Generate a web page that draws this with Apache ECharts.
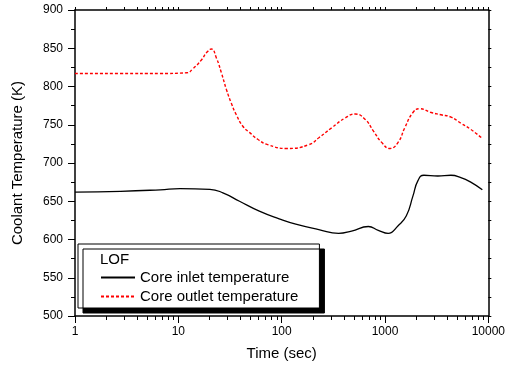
<!DOCTYPE html>
<html><head><meta charset="utf-8">
<script src="https://cdn.jsdelivr.net/npm/echarts@6/dist/echarts.min.js"></script>
<style>html,body{margin:0;padding:0;background:#fff}#c{width:508px;height:367px}</style>
</head><body><div id="c"></div>
<script>
// Core inlet temperature (black, solid)
const inletTime = [1, 2.76, 6.68, 10.4, 20.2, 27.0, 39.1, 60.8, 94.6, 137, 229, 356, 475, 691, 861, 1074, 1340, 1610, 1866, 2084, 2378, 3243, 4350, 5423, 6761, 8753];
const inletTemp = [662, 663, 665, 666.5, 665.6, 661, 650, 637, 627, 620, 613, 608, 611, 617, 612, 608, 618, 631, 657, 677, 684, 683, 684, 681, 675, 665];
// Core outlet temperature (red, dashed)
const outletTime = [1, 2.76, 6.68, 12.1, 13.8, 16.8, 18.7, 20.9, 23.4, 26.1, 29.2, 32.6, 36.4, 42.1, 48.8, 58.6, 73.1, 113, 184, 229, 305, 413, 515, 643, 771, 927, 1115, 1340, 1553, 1866, 2163, 2797, 3487, 4350, 5423, 6761, 8753];
const outletTemp = [817, 817, 817, 818, 823, 835, 844, 849, 837, 818, 796, 778, 763, 748, 740, 731, 724, 719, 724, 733, 746, 759, 764, 757, 742, 727, 719, 727, 746, 766, 771, 766, 763, 760, 752, 744, 732];
// tick values
const xMajorTicks = [1, 10, 100, 1000, 10000];
const xMinorTicks = [2,3,4,5,6,7,8,9, 20,30,40,50,60,70,80,90, 200,300,400,500,600,700,800,900, 2000,3000,4000,5000,6000,7000,8000,9000];
const yMin = 500, yMax = 900, yStep = 50;
const seriesNames = ['Core inlet temperature', 'Core outlet temperature'];
const legendTitle = 'LOF';
const xName = 'Time (sec)';
const yName = 'Coolant Temperature (K)';

const FONT = 'Liberation Sans, Arial, Helvetica, sans-serif';
const chart = echarts.init(document.getElementById('c'), null, {renderer: 'canvas'});
const black = '#000';
const baseX = {
  type: 'log', logBase: 10, min: 1, max: 10000,
  splitLine: {show: false}, minorSplitLine: {show: false}
};
chart.setOption({
  animation: false,
  backgroundColor: '#fff',
  textStyle: {fontFamily: FONT, color: black},
  grid: {left: 75, right: 17, top: 10, bottom: 51, containLabel: false},
  title: {
    text: legendTitle, left: 100, top: 252, padding: 0,
    textStyle: {fontFamily: FONT, fontSize: 15, fontWeight: 'normal', color: black}
  },
  legend: {
    orient: 'vertical', left: 78, top: 244,
    padding: [26, 21, 4, 22],
    itemGap: 4, itemWidth: 34, itemHeight: 15,
    backgroundColor: '#fff', borderColor: black, borderWidth: 1,
    shadowColor: black, shadowOffsetX: 5, shadowOffsetY: 5, shadowBlur: 0,
    itemStyle: {opacity: 0, borderWidth: 0},
    textStyle: {fontFamily: FONT, fontSize: 15, color: black, padding: [0, 0, 0, 0]},
    data: seriesNames
  },
  xAxis: [
    Object.assign({}, baseX, {
      position: 'bottom',
      axisLine: {show: true, onZero: false, lineStyle: {color: black, width: 1.5}},
      axisTick: {show: true, inside: false, length: 7, lineStyle: {color: black, width: 1}},
      axisLabel: {show: true, margin: 10, fontSize: 12, color: black, fontFamily: FONT,
        formatter: v => String(Math.round(v))},
      name: xName, nameLocation: 'middle', nameGap: 30,
      nameTextStyle: {fontSize: 15, color: black, fontFamily: FONT}
    }),
    Object.assign({}, baseX, {
      position: 'bottom',
      axisLine: {show: false, onZero: false},
      axisTick: {show: true, inside: false, length: 4, customValues: xMinorTicks, lineStyle: {color: black, width: 1}},
      axisLabel: {show: false}
    }),
    Object.assign({}, baseX, {
      position: 'top',
      axisLine: {show: true, onZero: false, lineStyle: {color: black, width: 1.5}},
      axisTick: {show: true, inside: false, length: 3, customValues: xMajorTicks.concat(xMinorTicks), lineStyle: {color: black, width: 1}},
      axisLabel: {show: false}
    })
  ],
  yAxis: [
    {
      type: 'value', min: yMin, max: yMax, interval: yStep, position: 'left',
      axisLine: {show: true, onZero: false, lineStyle: {color: black, width: 1.5}},
      axisTick: {show: true, inside: false, length: 7, lineStyle: {color: black, width: 1}},
      minorTick: {show: true, splitNumber: 2, length: 4, lineStyle: {color: black, width: 1}},
      axisLabel: {margin: 12, fontSize: 12, color: black, fontFamily: FONT},
      splitLine: {show: false}, minorSplitLine: {show: false},
      name: yName, nameLocation: 'middle', nameGap: 50,
      nameTextStyle: {fontSize: 15, color: black, fontFamily: FONT}
    },
    {
      type: 'value', min: yMin, max: yMax, interval: yStep, position: 'right',
      axisLine: {show: true, onZero: false, lineStyle: {color: black, width: 1.5}},
      axisTick: {show: true, inside: false, length: 3, lineStyle: {color: black, width: 1}},
      minorTick: {show: true, splitNumber: 2, length: 3, lineStyle: {color: black, width: 1}},
      axisLabel: {show: false},
      splitLine: {show: false}, minorSplitLine: {show: false}
    }
  ],
  series: [
    {
      name: seriesNames[0], type: 'line', xAxisIndex: 0, yAxisIndex: 0,
      data: inletTime.map((t, i) => [t, inletTemp[i]]),
      showSymbol: false, symbol: 'none', smooth: 0.5,
      lineStyle: {color: black, width: 1.3, type: 'solid'},
      itemStyle: {color: black}
    },
    {
      name: seriesNames[1], type: 'line', xAxisIndex: 0, yAxisIndex: 0,
      data: outletTime.map((t, i) => [t, outletTemp[i]]),
      showSymbol: false, symbol: 'none', smooth: 0.5,
      lineStyle: {color: '#ff0000', width: 1.4, type: [3, 2]},
      itemStyle: {color: '#ff0000'}
    }
  ]
});
</script>
</body></html>
